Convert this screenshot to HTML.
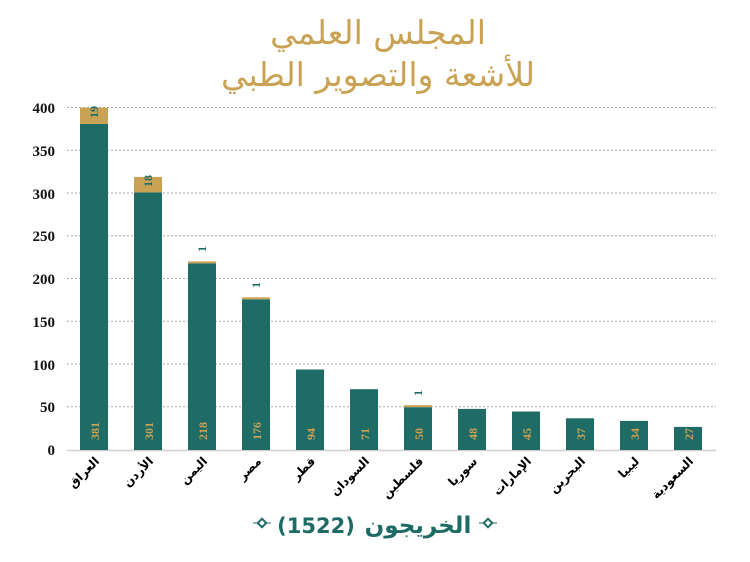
<!DOCTYPE html>
<html><head><meta charset="utf-8"><style>body{margin:0;background:#fff}</style></head><body>
<svg width="750" height="557" xmlns="http://www.w3.org/2000/svg" font-family="Liberation Serif, serif">
<text x="378" y="44" text-anchor="middle" font-family="DejaVu Sans, sans-serif" font-size="33" fill="#c9a253">المجلس العلمي</text>
<text x="378" y="86" text-anchor="middle" font-family="DejaVu Sans, sans-serif" font-size="33" fill="#c9a253">للأشعة والتصوير الطبي</text>
<g stroke="#aaa" stroke-dasharray="2,2" stroke-width="1">
<line x1="67" x2="716" y1="107.5" y2="107.5"/><line x1="67" x2="716" y1="150.3" y2="150.3"/><line x1="67" x2="716" y1="193" y2="193"/><line x1="67" x2="716" y1="235.8" y2="235.8"/><line x1="67" x2="716" y1="278.5" y2="278.5"/><line x1="67" x2="716" y1="321.3" y2="321.3"/><line x1="67" x2="716" y1="364" y2="364"/><line x1="67" x2="716" y1="406.8" y2="406.8"/>
</g>
<line x1="67" x2="716" y1="450.5" y2="450.5" stroke="#d0d0d0" stroke-width="1.5"/>
<g font-size="15" font-weight="bold" text-anchor="end" fill="#111">
<text x="55" y="113">400</text><text x="55" y="156">350</text><text x="55" y="199">300</text><text x="55" y="241">250</text><text x="55" y="284">200</text><text x="55" y="327">150</text><text x="55" y="370">100</text><text x="55" y="412">50</text><text x="55" y="455">0</text>
</g>
<g fill="#1f6b66">
<rect x="80" y="123.9" width="28" height="326.1"/>
<rect x="134" y="192.3" width="28" height="257.7"/>
<rect x="188" y="263.4" width="28" height="186.6"/>
<rect x="242" y="299.3" width="28" height="150.7"/>
<rect x="296" y="369.5" width="28" height="80.5"/>
<rect x="350" y="389.2" width="28" height="60.8"/>
<rect x="404" y="407.2" width="28" height="42.8"/>
<rect x="458" y="408.9" width="28" height="41.1"/>
<rect x="512" y="411.5" width="28" height="38.5"/>
<rect x="566" y="418.3" width="28" height="31.7"/>
<rect x="620" y="420.9" width="28" height="29.1"/>
<rect x="674" y="426.9" width="28" height="23.1"/>
</g>
<g fill="#c9a253">
<rect x="80" y="107.6" width="28" height="16.3"/>
<rect x="134" y="176.9" width="28" height="15.4"/>
<rect x="188" y="261.4" width="28" height="2"/>
<rect x="242" y="297.3" width="28" height="2"/>
<rect x="404" y="405.2" width="28" height="2"/>
</g>
<g font-size="12" font-weight="bold" fill="#c9a253">
<text transform="translate(99,440) rotate(-90)">381</text>
<text transform="translate(153,440) rotate(-90)">301</text>
<text transform="translate(207,440) rotate(-90)">218</text>
<text transform="translate(261,440) rotate(-90)">176</text>
<text transform="translate(315,440) rotate(-90)">94</text>
<text transform="translate(369,440) rotate(-90)">71</text>
<text transform="translate(423,440) rotate(-90)">50</text>
<text transform="translate(477,440) rotate(-90)">48</text>
<text transform="translate(531,440) rotate(-90)">45</text>
<text transform="translate(585,440) rotate(-90)">37</text>
<text transform="translate(639,440) rotate(-90)">34</text>
<text transform="translate(693,440) rotate(-90)">27</text>
</g>
<g font-size="12" font-weight="bold" fill="#1f6b66">
<text transform="translate(98,118) rotate(-90)">19</text>
<text transform="translate(152,187) rotate(-90)">18</text>
<text transform="translate(206,252) rotate(-90)">1</text>
<text transform="translate(260,288) rotate(-90)">1</text>
<text transform="translate(422,396) rotate(-90)">1</text>
</g>
<g font-family="DejaVu Sans, sans-serif" font-size="12" font-weight="bold" fill="#000" text-anchor="end">
<text transform="translate(100,462) rotate(-45)">العراق</text>
<text transform="translate(154,462) rotate(-45)">الأردن</text>
<text transform="translate(208,462) rotate(-45)">اليمن</text>
<text transform="translate(262,462) rotate(-45)">مصر</text>
<text transform="translate(316,462) rotate(-45)">قطر</text>
<text transform="translate(370,462) rotate(-45)">السودان</text>
<text transform="translate(424,462) rotate(-45)">فلسطين</text>
<text transform="translate(478,462) rotate(-45)">سوريا</text>
<text transform="translate(532,462) rotate(-45)">الإمارات</text>
<text transform="translate(586,462) rotate(-45)">البحرين</text>
<text transform="translate(640,462) rotate(-45)">ليبيا</text>
<text transform="translate(694,462) rotate(-45)">السعودية</text>
</g>
<text x="316" y="533" text-anchor="middle" font-family="DejaVu Sans, sans-serif" font-size="21" font-weight="bold" fill="#1e6b66">(1522)</text>
<text x="418" y="533" text-anchor="middle" font-family="DejaVu Sans, sans-serif" font-size="23" font-weight="bold" fill="#1e6b66">الخريجون</text>
<g fill="#fff" stroke="#1e6b66" stroke-width="2"><rect x="259" y="520" width="6" height="6" transform="rotate(45 262 523)"/><rect x="485" y="520" width="6" height="6" transform="rotate(45 488 523)"/></g>
<g stroke="#1e6b66" stroke-width="1"><line x1="253" x2="258" y1="523" y2="523"/><line x1="266" x2="271" y1="523" y2="523"/><line x1="479" x2="484" y1="523" y2="523"/><line x1="492" x2="497" y1="523" y2="523"/></g>
</svg>
</body></html>
